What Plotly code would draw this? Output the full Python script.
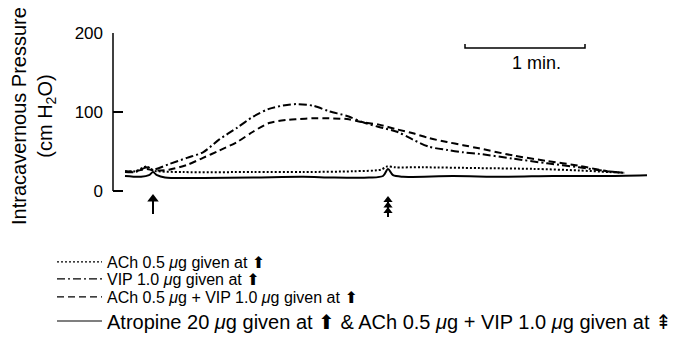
import plotly.graph_objects as go

# ---- data (time in s relative to first injection; pressure in cm H2O) ----
t_vip = [-14, -9, -3, 0, 8, 17, 25, 33, 42, 50, 58, 67, 72, 80, 88, 97, 105, 113,
         122, 130, 138, 147, 155, 163, 180, 197, 213, 227, 236]
vip = [24, 24, 30, 27, 34, 42, 49, 65, 80, 94, 104, 109, 110, 108, 101, 95, 87, 81,
       75, 65, 56, 52, 49, 47, 41, 35, 30, 25, 23]

t_combo = [-14, -9, -3, 0, 8, 17, 25, 33, 42, 50, 58, 67, 72, 80, 88, 97, 105, 113,
           122, 130, 138, 147, 155, 163, 180, 197, 213, 227, 236]
combo = [25, 25, 28, 26, 27, 33, 42, 51, 62, 75, 86, 90, 91, 92, 92, 91, 87, 84,
         78, 73, 67, 62, 58, 54, 45, 38, 32, 25, 23]

t_ach = [-14, -9, -3, 0, 15, 50, 75, 100, 114, 117, 121, 135, 163, 190, 213, 228, 236]
ach = [25, 25, 31, 26, 24, 24, 24, 25, 27, 31, 30, 30, 29, 28, 26, 24, 23]

t_atr = [-14, -6, -2, 0, 2, 6, 25, 50, 75, 90, 108, 115, 117.5, 120, 125, 150, 175,
         200, 225, 247]
atr = [19, 18, 20, 24, 20, 17, 16.5, 17, 18, 17, 17, 19, 28, 20, 18, 19, 18, 19, 19, 20]

dose_times = [0, 117.5]          # single arrow, triple arrow
scale_start, scale_len = 156, 60  # 1 min scale bar (s)

y_ticks = [0, 100, 200]

labels = [
    "ACh 0.5 <i>μ</i>g given at ⬆",
    "VIP 1.0 <i>μ</i>g given at ⬆",
    "ACh 0.5 <i>μ</i>g + VIP 1.0 <i>μ</i>g given at ⬆",
    "Atropine 20 <i>μ</i>g given at ⬆ & ACh 0.5 <i>μ</i>g + VIP 1.0 <i>μ</i>g given at ⇞",
]

FONT = "Liberation Sans, Arial, DejaVu Sans, sans-serif"
dashes = ["2px,2px", "8px,3px,2px,3px", "7px,4px", "solid"]

# page has an 8 px body margin; figure sized so it fills the window
OFF = 8
W, H = 677 - OFF, 341 - OFF
PLOT_TOP, PLOT_BOT = 33, 222          # page rows of the plot area
PX_PER_UNIT = 158 / 200.0              # 0 at row 191, 200 at row 33
Y_MIN = -(PLOT_BOT - 191) / PX_PER_UNIT


def px2v(py):
    return (191 - py) / PX_PER_UNIT


fig = go.Figure()
series = [(t_ach, ach), (t_vip, vip), (t_combo, combo), (t_atr, atr)]
for (tx, vy), d in zip(series, dashes):
    fig.add_trace(go.Scatter(x=tx, y=vy, mode="lines", showlegend=False,
                             line=dict(color="black", width=2, dash=d,
                                       shape="spline", smoothing=0.8)))

# scale bar
fig.add_trace(go.Scatter(x=[scale_start, scale_start, scale_start + scale_len, scale_start + scale_len],
                         y=[186, 181, 181, 186], mode="lines", showlegend=False,
                         line=dict(color="black", width=1.5)))

# injection arrows: shafts + heads
fig.add_trace(go.Scatter(x=[dose_times[0], dose_times[0], None, dose_times[1], dose_times[1]],
                         y=[px2v(214), px2v(201), None, px2v(217), px2v(201)],
                         mode="lines", showlegend=False,
                         line=dict(color="black", width=2)))
fig.add_trace(go.Scatter(x=[dose_times[0]], y=[px2v(199)], mode="markers", showlegend=False,
                         marker=dict(symbol="triangle-up", size=10, color="black")))
fig.add_trace(go.Scatter(x=[dose_times[1]] * 3, y=[px2v(200), px2v(205.5), px2v(211)],
                         mode="markers", showlegend=False,
                         marker=dict(symbol="triangle-up", size=8, color="black")))

# legend entries (thin samples), each in its own legend for exact placement
legend_names = ["legend", "legend2", "legend3", "legend4"]
for lab, d, ln in zip(labels, dashes, legend_names):
    fig.add_trace(go.Scatter(x=[None], y=[None], mode="lines", name=lab, legend=ln,
                             line=dict(color="black", width=1.2, dash=d)))

rows = [262, 279, 297, 321]
sizes = [16, 16, 16, 20]
leg_layout = {}
for ln, r, s in zip(legend_names, rows, sizes):
    leg_layout[ln] = dict(x=(52 - OFF) / W, y=1 - (r - OFF) / H,
                          xref="container", yref="container",
                          xanchor="left", yanchor="middle",
                          bgcolor="rgba(0,0,0,0)", itemwidth=45,
                          font=dict(family=FONT, size=s, color="black"))

plot_h = PLOT_BOT - PLOT_TOP
annotations = [
    dict(x=191.5, y=162, xref="x", yref="y", text="1 min.", showarrow=False,
         font=dict(family=FONT, size=18, color="black")),
    dict(x=(33 - 113) / 547, y=(PLOT_BOT - 116) / plot_h, xref="paper", yref="paper",
         text="Intracavernous Pressure<br>(cm H<sub>2</sub>O)", textangle=-90,
         showarrow=False, xanchor="center", yanchor="middle",
         font=dict(family=FONT, size=20, color="black")),
]

shapes = [
    dict(type="line", xref="paper", yref="y", x0=0, x1=0, y0=0, y1=200,
         line=dict(color="black", width=1.5)),
]

fig.update_layout(
    width=W, height=H,
    margin=dict(l=113 - OFF, r=677 - 660, t=PLOT_TOP - OFF, b=341 - PLOT_BOT,
                autoexpand=False),
    paper_bgcolor="white", plot_bgcolor="white",
    xaxis=dict(range=[-20, 253.5], visible=False),
    yaxis=dict(range=[Y_MIN, 200], tickvals=y_ticks, ticks="inside", ticklen=10,
               tickwidth=1.5, showline=False, tickcolor="black",
               showgrid=False, zeroline=False, ticklabelstandoff=9,
               tickfont=dict(family=FONT, size=17, color="black")),
    annotations=annotations,
    shapes=shapes,
    **leg_layout,
)

fig.write_html("out.html")
